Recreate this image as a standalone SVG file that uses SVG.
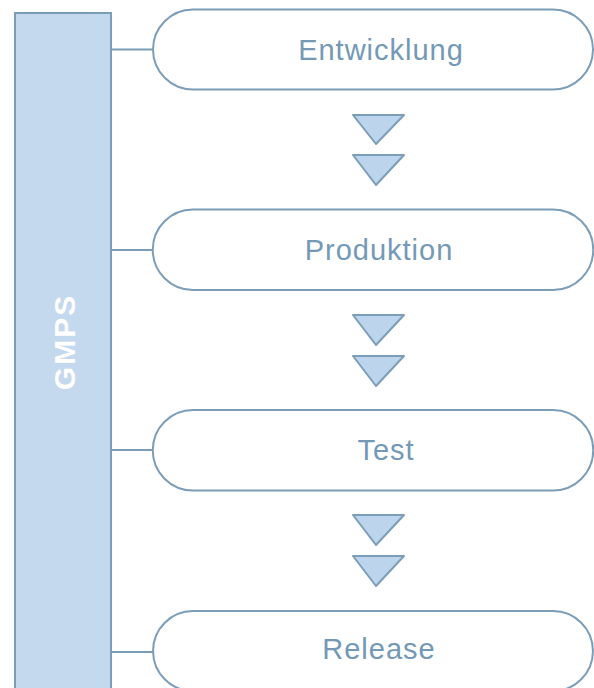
<svg xmlns="http://www.w3.org/2000/svg" width="594" height="688" viewBox="0 0 594 688">
<defs>
<style>
.node{fill:#ffffff;stroke:#7c9db8;stroke-width:2}
.lbl{font-family:"Liberation Sans",Arial,sans-serif;font-size:29px;letter-spacing:1px;fill:#7399b6;text-anchor:middle}
.conn{stroke:#7c9db8;stroke-width:2;fill:none}
.tri{fill:#bcd5ed;stroke:#7c9db8;stroke-width:2;stroke-linejoin:round}
</style>
</defs>
<rect width="594" height="688" fill="#ffffff"/>
<g id="gmps">
<rect x="15" y="13" width="96" height="676" fill="#c4d9ed" stroke="#7c9db8" stroke-width="2"/>
<text transform="translate(75,342) rotate(-90)" font-family="'Liberation Sans',Arial,sans-serif" font-weight="bold" font-size="30" letter-spacing="2" fill="#ffffff" text-anchor="middle">GMPS</text>
</g>
<g id="connectors">
<line class="conn" x1="111" y1="49.5" x2="153" y2="49.5"/>
<line class="conn" x1="111" y1="250" x2="153" y2="250"/>
<line class="conn" x1="111" y1="450" x2="153" y2="450"/>
<line class="conn" x1="111" y1="652" x2="153" y2="652"/>
<polygon class="tri" points="353,115 404,115 376,144"/>
<polygon class="tri" points="353,155 404,155 376,185"/>
<polygon class="tri" points="353,315 404,315 376,345"/>
<polygon class="tri" points="353,356 404,356 376,386"/>
<polygon class="tri" points="353,515 404,515 376,545"/>
<polygon class="tri" points="353,556 404,556 376,586"/>
</g>
<g id="entwicklung">
<path class="node" d="M193,9.5 H553 A40,40 0 0 1 553,89.5 H193 A40,40 0 0 1 193,9.5 Z"/>
<text class="lbl" x="381" y="60">Entwicklung</text>
</g>
<g id="produktion">
<path class="node" d="M193,209.5 H553 A40,40 0 0 1 553,290 H193 A40,40 0 0 1 193,209.5 Z"/>
<text class="lbl" x="379" y="260">Produktion</text>
</g>
<g id="test">
<path class="node" d="M193,410 H553 A40,40 0 0 1 553,490.5 H193 A40,40 0 0 1 193,410 Z"/>
<text class="lbl" x="386" y="460">Test</text>
</g>
<g id="release">
<path class="node" d="M193,611 H553 A40,40 0 0 1 553,691 H193 A40,40 0 0 1 193,611 Z"/>
<text class="lbl" x="379" y="659">Release</text>
</g>
</svg>
